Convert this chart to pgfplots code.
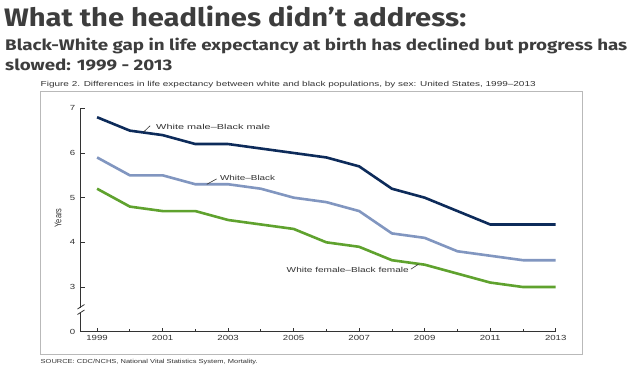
\documentclass[border=0pt]{standalone}
\usepackage{pgfplots}
\pgfplotsset{compat=1.18}
\usepackage{fontspec}
\setmainfont{Liberation Sans}
\newfontfamily\titlefont{Fira Sans}
\usepackage{graphicx}
\definecolor{navy}{HTML}{0D2B5A}
\definecolor{lblue}{HTML}{8196C0}
\definecolor{lgreen}{HTML}{5FA22E}
\definecolor{ttl}{HTML}{3D3D3D}
\definecolor{axc}{HTML}{333333}
\newcommand\ct[1]{{\fontsize{7.4bp}{8bp}\selectfont\scalebox{1.3}[1]{#1}}}
\newcommand\subf{\titlefont\bfseries\fontsize{14bp}{16bp}\selectfont}
\newlength\sublen
\newlength\subht
\begin{document}%
\settowidth\sublen{\subf Black-White gap in life expectancy at birth has declined but progress has}%
\settoheight\subht{\subf Black-White gap in life expectancy at birth has declined but progress has}%
\pgfmathsetmacro\subsc{624.4/\sublen}%
\pgfmathsetmacro\subsy{12.45/\subht}%
\begin{tikzpicture}[x=1bp,y=1bp]
\useasboundingbox (0,0) rectangle (639,369);
\fill[white] (0,0) rectangle (639,369);
% titles
\node[anchor=base west, inner sep=0, text=ttl] at (4,342.3) {\resizebox{462bp}{20.5bp}{\titlefont\bfseries What the headlines didn’t address:}};
\node[anchor=base west, inner sep=0, text=ttl] at (5,318.3) {\scalebox{\subsc}[\subsy]{\subf Black-White gap in life expectancy at birth has declined but progress has}};
\node[anchor=base west, inner sep=0, text=ttl] at (5,298.3) {\scalebox{\subsc}[\subsy]{\subf slowed: 1999 - 2013}};
% figure frame and caption
\draw[gray!55, line width=0.8bp] (40.5,277.3) rectangle (582,15);
\node[anchor=base west, inner sep=0, text=axc] at (40.5,282.3) {\resizebox{495bp}{5.2bp}{Figure 2. Differences in life expectancy between white and black populations, by sex: United States, 1999–2013}};
\node[anchor=base west, inner sep=0, text=axc] at (40.5,5.5) {\resizebox{217bp}{4.2bp}{SOURCE: CDC/NCHS, National Vital Statistics System, Mortality.}};
\node[rotate=90, text=axc, inner sep=0] at (58,151) {\fontsize{7.4bp}{8bp}\selectfont\scalebox{1}[1.3]{Years}};
\begin{axis}[
  at={(80.7bp,37.3bp)}, anchor=south west,
  width=475bp, height=223.4bp, scale only axis,
  xmin=1998.5, xmax=2013, ymin=2, ymax=7,
  axis x line*=bottom, axis y line*=left,
  axis line style={axc, line width=1bp, -},
  xtick={1999,2001,2003,2005,2007,2009,2011,2013},
  xticklabels={\ct{1999},\ct{2001},\ct{2003},\ct{2005},\ct{2007},\ct{2009},\ct{2011},\ct{2013}},
  minor xtick={2000,2002,2004,2006,2008,2010,2012},
  ytick={2,3,4,5,6,7},
  yticklabels={\ct{0},\ct{3},\ct{4},\ct{5},\ct{6},\ct{7}},
  tick align=inside, major tick length=4bp, minor tick length=3bp,
  tick style={axc, line width=0.8bp},
  ticklabel style={text=axc},
  y tick label style={xshift=-2bp},
  clip=false,
]
\addplot[navy, line width=2.6bp] coordinates {(1999,6.8) (2000,6.5) (2001,6.4) (2002,6.2) (2003,6.2) (2004,6.1) (2005,6.0) (2006,5.9) (2007,5.7) (2008,5.2) (2009,5.0) (2010,4.7) (2011,4.4) (2012,4.4) (2013,4.4)};
\addplot[lblue, line width=2.6bp] coordinates {(1999,5.9) (2000,5.5) (2001,5.5) (2002,5.3) (2003,5.3) (2004,5.2) (2005,5.0) (2006,4.9) (2007,4.7) (2008,4.2) (2009,4.1) (2010,3.8) (2011,3.7) (2012,3.6) (2013,3.6)};
\addplot[lgreen, line width=2.6bp] coordinates {(1999,5.2) (2000,4.8) (2001,4.7) (2002,4.7) (2003,4.5) (2004,4.4) (2005,4.3) (2006,4.0) (2007,3.9) (2008,3.6) (2009,3.5) (2010,3.3) (2011,3.1) (2012,3.0) (2013,3.0)};
\draw[axc, line width=0.6bp] (axis cs:2000.62,6.61) -- (axis cs:2000.42,6.47);
\node[anchor=west, inner sep=0, text=axc] at (axis cs:2000.80,6.59) {\resizebox{114bp}{5.2bp}{White male–Black male}};
\draw[axc, line width=0.6bp] (axis cs:2002.65,5.42) -- (axis cs:2002.35,5.30);
\node[anchor=west, inner sep=0, text=axc] at (axis cs:2002.75,5.45) {\resizebox{55bp}{5.2bp}{White–Black}};
\draw[axc, line width=0.6bp] (axis cs:2008.58,3.40) -- (axis cs:2008.81,3.51);
\node[anchor=east, inner sep=0, text=axc] at (axis cs:2008.52,3.38) {\resizebox{122bp}{5.2bp}{White female–Black female}};
\end{axis}
% axis break
\fill[white] (79.3,57.3) rectangle (82.1,61.3);
\draw[axc, line width=0.8bp] (77.5,60) -- (84.5,64.5);
\draw[axc, line width=0.8bp] (77.5,54.5) -- (84.5,59);
\end{tikzpicture}%
\end{document}
